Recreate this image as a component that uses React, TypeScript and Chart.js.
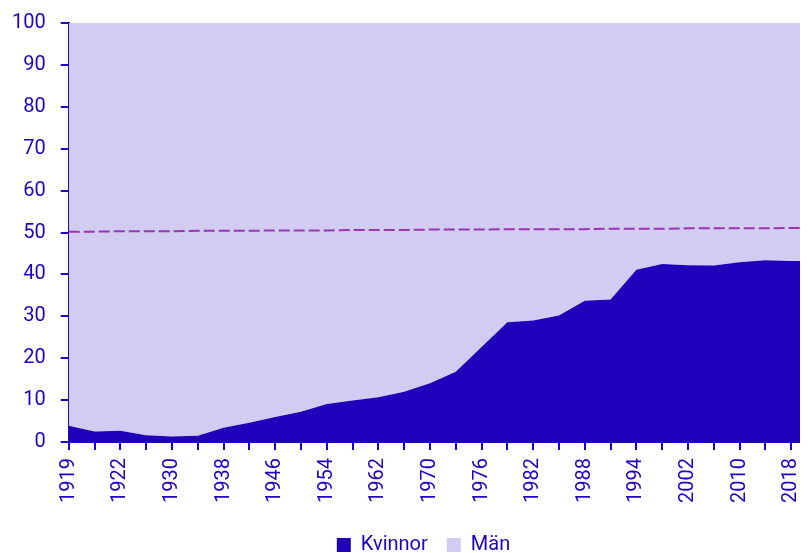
import React, { useEffect, useRef } from "react";
import { Chart, registerables } from "chart.js";

Chart.register(...registerables);

const years = [
  "1919", "1920", "1922", "1926", "1930", "1934", "1938", "1942", "1946", "1950",
  "1954", "1958", "1962", "1966", "1970", "1973", "1976", "1979", "1982", "1985",
  "1988", "1991", "1994", "1998", "2002", "2006", "2010", "2014", "2018", "2022",
];

const kvinnor = [
  3.9, 2.5, 2.7, 1.6, 1.35, 1.5, 3.4, 4.6, 6.0, 7.2,
  9.1, 9.9, 10.7, 12.0, 14.0, 16.8, 22.7, 28.6, 29.0, 30.2,
  33.7, 34.0, 41.1, 42.5, 42.2, 42.1, 42.9, 43.4, 43.2, 43.2,
];

const man = [
  96.1, 97.5, 97.3, 98.4, 98.65, 98.5, 96.6, 95.4, 94.0, 92.8,
  90.9, 90.1, 89.3, 88.0, 86.0, 83.2, 77.3, 71.4, 71.0, 69.8,
  66.3, 66.0, 58.9, 57.5, 57.8, 57.9, 57.1, 56.6, 56.8, 56.8,
];

const befolkning = [
  50.2, 50.2, 50.3, 50.3, 50.3, 50.4, 50.4, 50.4, 50.5, 50.5,
  50.5, 50.6, 50.6, 50.6, 50.7, 50.7, 50.7, 50.8, 50.8, 50.8,
  50.8, 50.9, 50.9, 50.9, 51.0, 51.0, 51.0, 51.0, 51.1, 51.1,
];

const yTicks = [0, 10, 20, 30, 40, 50, 60, 70, 80, 90, 100];

const BLUE = "#2200c4";
const DARK = "#1f00bb";
const LIGHT = "#d2ccf2";
const DASH = "#9a35b0";

export default function App() {
  const ref = useRef<HTMLCanvasElement | null>(null);

  useEffect(() => {
    if (!ref.current) return;
    const chart = new Chart(ref.current, {
      type: "line",
      data: {
        labels: years,
        datasets: [
          {
            label: "ref",
            data: befolkning,
            borderColor: DASH,
            borderWidth: 2,
            borderDash: [11, 4],
            pointRadius: 0,
            fill: false,
            stack: "ref",
            tension: 0,
          },
          {
            label: "Kvinnor",
            data: kvinnor,
            backgroundColor: DARK,
            borderColor: DARK,
            borderWidth: 0,
            pointRadius: 0,
            fill: "origin",
            stack: "main",
            tension: 0,
          },
          {
            label: "Män",
            data: man,
            backgroundColor: LIGHT,
            borderColor: LIGHT,
            borderWidth: 0,
            pointRadius: 0,
            fill: "-1",
            stack: "main",
            tension: 0,
          },
        ],
      },
      options: {
        animation: false,
        responsive: false,
        maintainAspectRatio: false,
        layout: { padding: { top: 15, left: 4, right: 0, bottom: 0 } },
        plugins: {
          tooltip: { enabled: false },
          legend: {
            position: "bottom",
            labels: {
              filter: (item: any) => item.text !== "ref",
              boxWidth: 14,
              boxHeight: 14,
              padding: 19,
              color: BLUE,
              font: { family: "Roboto", size: 20 },
            },
          },
        },
        scales: {
          x: {
            type: "category",
            stacked: true,
            offset: false,
            grid: {
              display: true,
              drawOnChartArea: false,
              color: BLUE,
              lineWidth: 2,
              tickLength: 8,
            },
            border: { display: true, color: BLUE, width: 2 },
            ticks: {
              autoSkip: false,
              maxRotation: 90,
              minRotation: 90,
              padding: 8,
              color: BLUE,
              font: { family: "Roboto", size: 20 },
              callback: (_v: any, i: number) => (i % 2 === 0 ? years[i] : ""),
            },
            afterFit: (scale: any) => {
              scale.height += 5;
              scale.paddingLeft = 0;
              scale.paddingRight = 18;
            },
          },
          y: {
            stacked: true,
            min: 0,
            max: 100,
            grid: {
              display: true,
              drawOnChartArea: false,
              color: BLUE,
              lineWidth: 2,
              tickLength: 8,
            },
            border: { display: true, color: BLUE, width: 2 },
            afterBuildTicks: (scale: any) => {
              scale.ticks = yTicks.map((v) => ({ value: v }));
            },
            ticks: {
              padding: 15,
              color: BLUE,
              font: { family: "Roboto", size: 20 },
            },
            afterFit: (scale: any) => {
              scale.width -= 15;
              scale.paddingTop = 0;
              scale.paddingBottom = 0;
            },
          },
        },
      },
    });
    return () => chart.destroy();
  }, []);

  return (
    <div style={{ width: 800, height: 545, overflow: "hidden" }}>
      <canvas
        ref={ref}
        width={827}
        height={557}
        style={{ display: "block", width: 827, height: 557 }}
      />
    </div>
  );
}
